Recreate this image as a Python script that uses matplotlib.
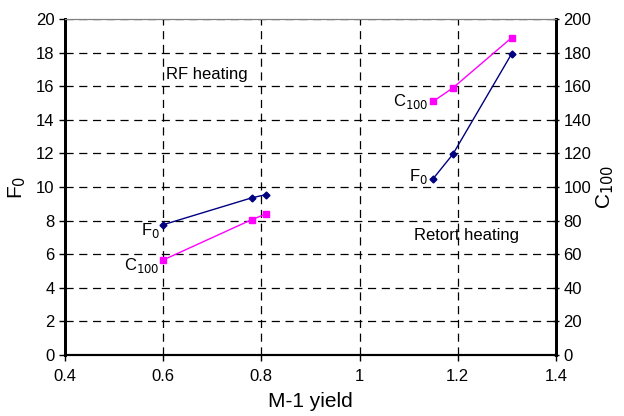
import matplotlib.pyplot as plt

plt.rcParams['font.family'] = ['Liberation Sans', 'DejaVu Sans']

# RF heating
rf_yield = [0.60, 0.78, 0.81]
rf_f0 = [7.75, 9.35, 9.55]
rf_yield_c = [0.60, 0.78, 0.81]
rf_c100 = [56.5, 80.5, 84]

# Retort heating
rt_yield = [1.15, 1.19, 1.31]
rt_f0 = [10.5, 11.95, 17.95]
rt_c100 = [151, 159, 189]

navy = '#000080'
magenta = '#ff00ff'

fig = plt.figure(figsize=(6.24, 4.16), dpi=100)
ax = fig.add_axes([0.104, 0.147, 0.787, 0.807])
ax2 = ax.twinx()

ax.plot(rf_yield, rf_f0, color=navy, marker='D', ms=3.5, lw=1)
ax.plot(rt_yield, rt_f0, color=navy, marker='D', ms=3.5, lw=1)
ax2.plot(rf_yield_c, rf_c100, color=magenta, marker='s', ms=4, lw=1)
ax2.plot(rt_yield, rt_c100, color=magenta, marker='s', ms=4, lw=1)

ax.set_xlim(0.4, 1.4)
ax.set_ylim(0, 20)
ax2.set_ylim(0, 200)
ax.set_xticks([0.4, 0.6, 0.8, 1.0, 1.2, 1.4])
ax.set_xticklabels(['0.4', '0.6', '0.8', '1', '1.2', '1.4'])
ax.set_yticks(range(0, 21, 2))
ax2.set_yticks(range(0, 201, 20))

ax.grid(True, color='black', linestyle=(0, (6.5, 4.5)), lw=0.9)
ax.tick_params(labelsize=12, width=1, length=4)
ax.tick_params(axis='x', pad=6)
ax2.tick_params(labelsize=12, width=1, length=4, direction='inout')

for a in (ax, ax2):
    a.spines['top'].set_color('gray')
    a.spines['top'].set_linewidth(0.8)
    a.spines['left'].set_linewidth(2)
    a.spines['right'].set_linewidth(2)
    a.spines['bottom'].set_linewidth(1.5)

ax.set_xlabel('M-1 yield', fontsize=15, labelpad=6)
ax.set_ylabel('F$_0$', fontsize=15, labelpad=6)
ax2.set_ylabel('C$_{100}$', fontsize=15, labelpad=2)

ax.text(0.69, 16.7, 'RF heating', fontsize=12, ha='center', va='center')
ax.text(1.217, 7.1, 'Retort heating', fontsize=12, ha='center', va='center')
ax.text(0.593, 7.4, 'F$_0$', fontsize=12, ha='right', va='center')
ax.text(0.593, 5.3, 'C$_{100}$', fontsize=12, ha='right', va='center')
ax.text(1.14, 10.6, 'F$_0$', fontsize=12, ha='right', va='center')
ax.text(1.14, 15.1, 'C$_{100}$', fontsize=12, ha='right', va='center')

fig.savefig('out.png', dpi=100)
